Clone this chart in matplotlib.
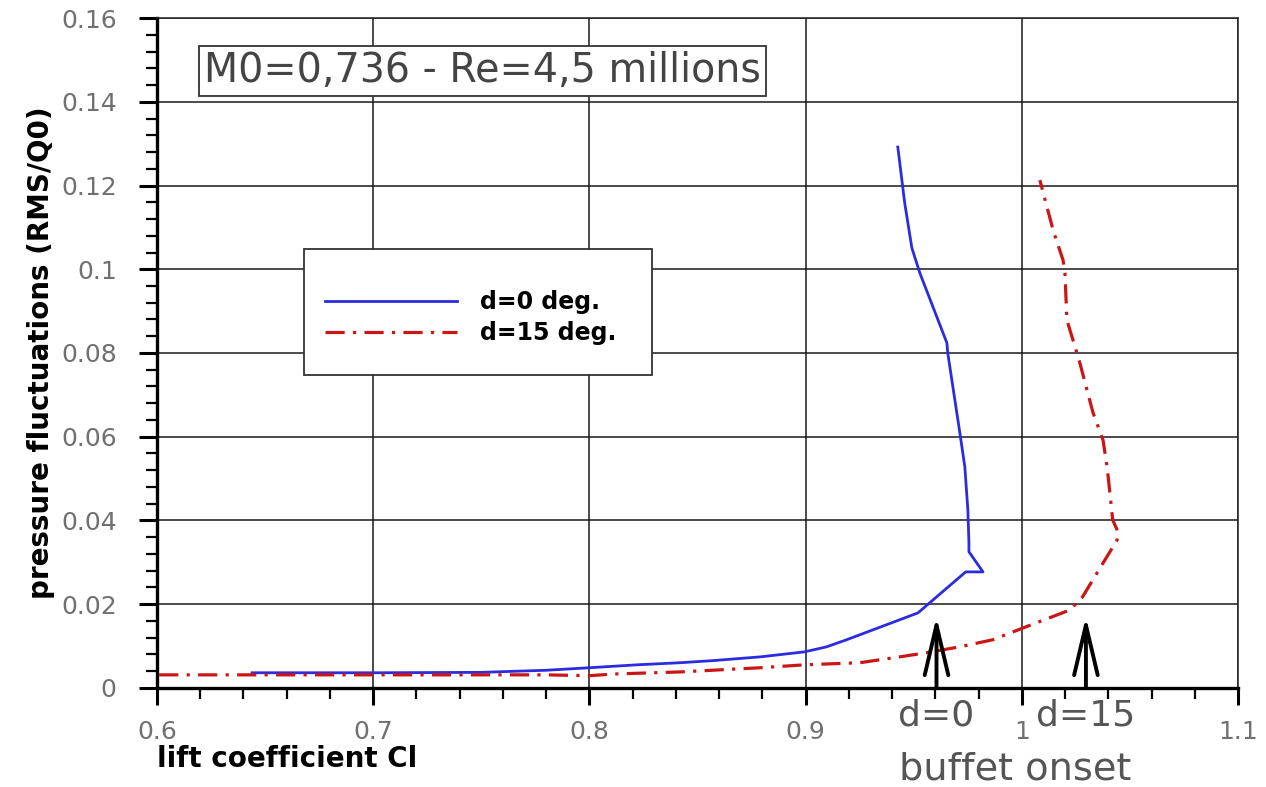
import matplotlib
matplotlib.use('Agg')
import matplotlib.pyplot as plt
from matplotlib.patches import Rectangle
from matplotlib.ticker import MultipleLocator, FormatStrFormatter

# RMS pressure fluctuations vs lift coefficient, two flap deflections
cl_d0 = [0.644, 0.70, 0.75, 0.78, 0.80, 0.822, 0.842, 0.857, 0.879, 0.8995,
         0.9097, 0.919, 0.9519, 0.974, 0.982, 0.9755, 0.9755, 0.975, 0.9736,
         0.9713, 0.9657, 0.9653, 0.9528, 0.9491, 0.9458, 0.9426]
rms_d0 = [0.0036, 0.0036, 0.0037, 0.0042, 0.0048, 0.0055, 0.0060, 0.0065,
          0.0074, 0.0086, 0.0098, 0.0115, 0.0179, 0.0277, 0.0277, 0.0325,
          0.0346, 0.0425, 0.0528, 0.0609, 0.0800, 0.0824, 0.0991, 0.1051,
          0.1158, 0.1292]

cl_d15 = [0.601, 0.70, 0.78, 0.80, 0.811, 0.842, 0.879, 0.8995, 0.925, 0.9435,
          0.956, 0.9713, 0.9866, 1.0005, 1.0222, 1.028, 1.0375, 1.044, 1.0444,
          1.042, 1.0394, 1.0375, 1.0329, 1.0268, 1.0208, 1.0199, 1.019, 1.0144,
          1.0083]
rms_d15 = [0.0031, 0.0031, 0.0031, 0.0029, 0.0033, 0.0038, 0.0048, 0.0055,
           0.0060, 0.0074, 0.0084, 0.0098, 0.0115, 0.0143, 0.0186, 0.0217,
           0.0298, 0.0353, 0.0373, 0.0401, 0.0528, 0.0592, 0.0657, 0.0776,
           0.0879, 0.0991, 0.1022, 0.1094, 0.1213]

onset_cl = [0.9605, 1.0296]
onset_labels = ['d=0', 'd=15']
onset_rms = 0.017

plt.rcParams['font.family'] = 'DejaVu Sans'

fig = plt.figure(figsize=(12.66, 7.87), dpi=100)
ax = fig.add_axes([0.124, 0.126, 0.854, 0.851])

ax.plot(cl_d0, rms_d0, color='#2b2be0', lw=2.0, label='d=0 deg.', zorder=4)
ax.plot(cl_d15, rms_d15, color='#cc1515', lw=2.3,
        linestyle=(0, (6, 2.6, 1.0, 2.6)), label='d=15 deg.', zorder=4)

ax.set_xlim(0.6, 1.1)
ax.set_ylim(0, 0.16)
ax.xaxis.set_major_locator(MultipleLocator(0.1))
ax.xaxis.set_minor_locator(MultipleLocator(0.02))
ax.yaxis.set_major_locator(MultipleLocator(0.02))
ax.yaxis.set_minor_locator(MultipleLocator(0.004))
ax.xaxis.set_major_formatter(FormatStrFormatter('%g'))
ax.yaxis.set_major_formatter(FormatStrFormatter('%g'))

ax.grid(True, which='major', color='#1a1a1a', lw=1.1, zorder=1)
ax.set_axisbelow(True)

for side in ['left', 'bottom']:
    ax.spines[side].set_linewidth(2.4)
    ax.spines[side].set_color('black')
for side in ['top', 'right']:
    ax.spines[side].set_linewidth(1.1)
    ax.spines[side].set_color('#222222')

ax.tick_params(axis='both', which='minor', direction='out', length=8,
               width=1.6)
ax.tick_params(axis='x', which='major', direction='out', length=12,
               width=2.2, pad=11, labelsize=18, labelcolor='#707070')
ax.tick_params(axis='y', which='major', direction='out', length=13,
               width=2.2, pad=16, labelsize=18, labelcolor='#707070')

ax.set_ylabel('pressure fluctuations (RMS/Q0)', fontsize=20,
              fontweight='bold', labelpad=4)
ax.text(0.0, -0.118, 'lift coefficient Cl', transform=ax.transAxes,
        fontsize=20, fontweight='bold', ha='left', va='baseline')

# case header
ax.text(0.301, 0.921, 'M0=0,736 - Re=4,5 millions', transform=ax.transAxes,
        fontsize=28.5, color='#444444', ha='center', va='center', zorder=5,
        bbox=dict(boxstyle='square,pad=0.12', fc='white', ec='#333333',
                  lw=1.3))

# legend with its own white frame
ax.add_patch(Rectangle((0.136, 0.467), 0.322, 0.188, transform=ax.transAxes,
                       fc='white', ec='#333333', lw=1.3, zorder=3))
ax.legend(loc='center', bbox_to_anchor=(0.29, 0.553), frameon=False,
          prop={'weight': 'bold', 'size': 17}, handlelength=5.6,
          handletextpad=0.95, labelspacing=0.3)

# buffet onset arrows
for x, lab in zip(onset_cl, onset_labels):
    ax.annotate('', xy=(x, onset_rms), xytext=(x, 0),
                arrowprops=dict(arrowstyle='->,head_length=3.6,head_width=0.85',
                                color='black', lw=2.8, shrinkA=0, shrinkB=0),
                zorder=6)
    ax.text(x, -0.042, lab, transform=ax.get_xaxis_transform(), fontsize=26,
            color='#555555', ha='center', va='center')
ax.text(sum(onset_cl) / 2 + 0.002, -0.122, 'buffet onset',
        transform=ax.get_xaxis_transform(), fontsize=27.5, color='#555555',
        ha='center', va='center')

fig.savefig('out.png', dpi=100)
